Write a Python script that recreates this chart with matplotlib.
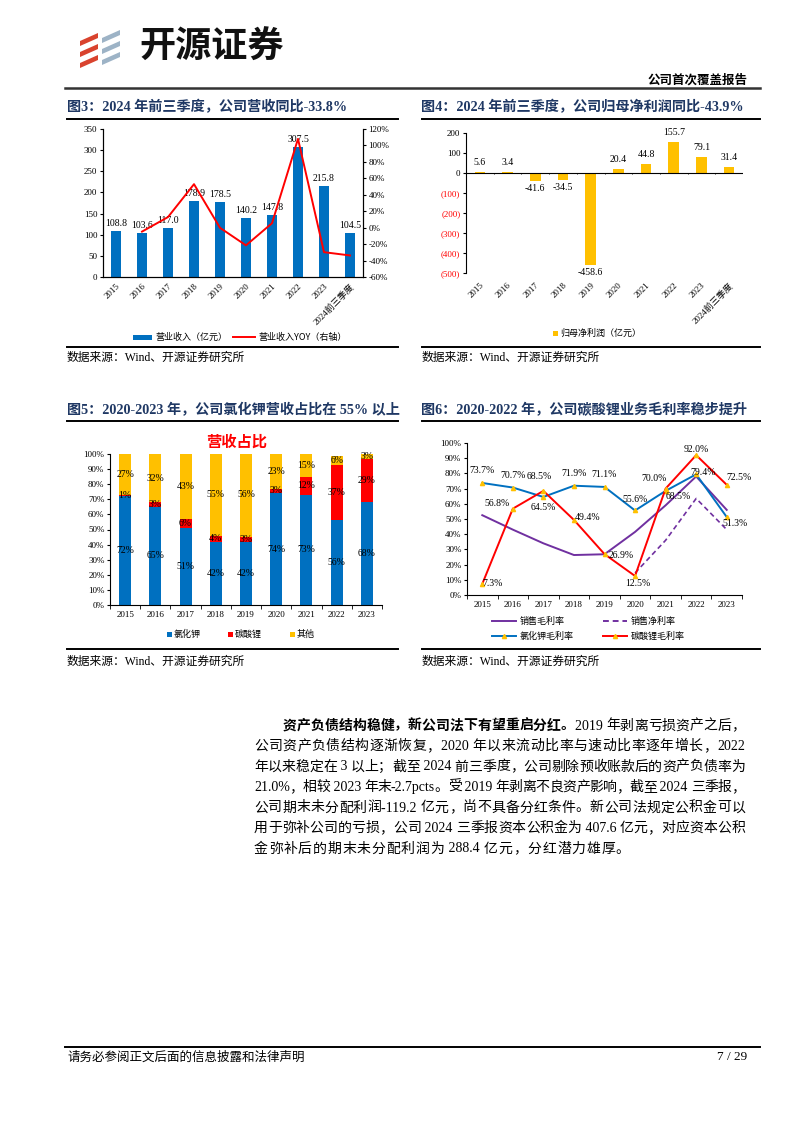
import matplotlib
matplotlib.use('Agg')
import matplotlib.pyplot as plt
import numpy as np
from matplotlib.lines import Line2D
from matplotlib.patches import Rectangle, Polygon

# ---------------- data ----------------
years = ['2015', '2016', '2017', '2018', '2019', '2020', '2021', '2022', '2023']
rev_cats = years + ['2024前三季度']
revenue = [108.8, 103.6, 117.0, 178.9, 178.5, 140.2, 147.8, 307.5, 215.8, 104.5]
revenue_yoy = [np.nan, -4.8, 12.9, 52.9, -0.2, -21.5, 5.4, 108.0, -29.8, -33.8]

net_profit = [5.6, 3.4, -41.6, -34.5, -458.6, 20.4, 44.8, 155.7, 79.1, 31.4]

share_kcl = [72, 65, 51, 42, 42, 74, 73, 56, 68]
share_li = [1, 3, 6, 4, 3, 3, 12, 37, 29]
share_other = [27, 32, 43, 55, 56, 23, 15, 6, 3]

gross_margin = [52.5, 43.0, 34.0, 26.3, 26.8, 41.5, 59.0, 78.0, 56.0]
net_margin = [np.nan, np.nan, np.nan, np.nan, np.nan, 14.5, 36.0, 63.5, 43.0]
kcl_margin = [73.7, 70.7, 64.5, 71.9, 71.1, 55.6, 68.5, 79.4, 51.3]
li_margin = [7.3, 56.8, 68.5, 49.4, 26.9, 12.5, 70.0, 92.0, 72.5]

# ---------------- setup ----------------
W, H = 794, 1123
FAM = ['Liberation Serif', 'Noto Sans CJK SC']
CJK = ['Noto Sans CJK SC', 'Liberation Serif']
plt.rcParams['font.family'] = FAM
plt.rcParams['axes.unicode_minus'] = False
plt.rcParams['axes.linewidth'] = 0.8

fig = plt.figure(figsize=(W / 100, H / 100), dpi=100)
fig.patch.set_facecolor('white')

BLUE = '#0070C0'
RED = '#FF0000'
YEL = '#FFC000'
PUR = '#7030A0'
NAVY = '#1F3864'


def add_ax(l, t, r, b):
    return fig.add_axes([l / W, 1 - b / H, (r - l) / W, (b - t) / H])


def ftext(x, y, s, **kw):
    return fig.text(x / W, 1 - y / H, s, **kw)


def hline(x0, x1, y, lw=1.2, color='black'):
    fig.add_artist(Line2D([x0 / W, x1 / W], [1 - y / H, 1 - y / H], color=color, lw=lw))


# ---------------- header ----------------
# logo icon: red and grey-blue slanted strokes
for i, yy in enumerate([33, 44, 55]):
    fig.add_artist(Polygon([[(80) / W, 1 - (yy + 8) / H], [(98) / W, 1 - (yy) / H],
                            [(98) / W, 1 - (yy + 5) / H], [(80) / W, 1 - (yy + 13) / H]],
                           closed=True, color='#D9432E', lw=0))
for i, yy in enumerate([30, 41, 52]):
    fig.add_artist(Polygon([[(102) / W, 1 - (yy + 8) / H], [(120) / W, 1 - (yy) / H],
                            [(120) / W, 1 - (yy + 5) / H], [(102) / W, 1 - (yy + 13) / H]],
                           closed=True, color='#9DB3C6', lw=0))
ftext(139, 47, '开源证券', fontsize=26, fontweight='bold', family=CJK, va='center', ha='left', color='#111111')
ftext(748, 80, '公司首次覆盖报告', fontsize=9, fontweight='bold', family=CJK, va='center', ha='right')
hline(65, 760, 88, lw=1.8, color='#333333')


def title(x, y, s):
    ftext(x, y, s, fontsize=10.2, fontweight='bold', color=NAVY, va='center', ha='left')


title(67, 107, '图3：2024 年前三季度，公司营收同比-33.8%')
title(421, 107, '图4：2024 年前三季度，公司归母净利润同比-43.9%')
title(67, 410, '图5：2020-2023 年，公司氯化钾营收占比在 55% 以上')
title(421, 410, '图6：2020-2022 年，公司碳酸锂业务毛利率稳步提升')
for (a, b) in [(67, 398), (422, 760)]:
    hline(a, b, 119, lw=1.4)
    hline(a, b, 347, lw=1.4)
    hline(a, b, 421, lw=1.4)
    hline(a, b, 649, lw=1.4)
for x0 in [67, 422]:
    ftext(x0, 358, '数据来源：Wind、开源证券研究所', fontsize=8.5, va='center', ha='left')
    ftext(x0, 662, '数据来源：Wind、开源证券研究所', fontsize=8.5, va='center', ha='left')

TICK = 6.5
LAB = 7

# ---------------- chart 3 ----------------
ax3 = add_ax(103, 129, 363, 277)
x = np.arange(len(rev_cats))
ax3.bar(x, revenue, width=0.42, color=BLUE, zorder=2)
ax3.set_xlim(-0.5, len(rev_cats) - 0.5)
ax3.set_ylim(0, 350)
ax3.set_yticks(range(0, 351, 50))
ax3.tick_params(axis='y', labelsize=TICK, length=2, pad=2)
ax3.set_xticks(x)
ax3.set_xticklabels(rev_cats, rotation=45, ha='right', rotation_mode='anchor', fontsize=TICK)
ax3.tick_params(axis='x', length=0, pad=4)
ax3.spines['top'].set_visible(False)
for xi, v in zip(x, revenue):
    ax3.annotate(f'{v:.1f}', (xi, v), xytext=(0, 3), textcoords='offset pixels',
                 ha='center', va='bottom', fontsize=LAB, zorder=5)
ax3r = ax3.twinx()
ax3r.plot(x, revenue_yoy, color=RED, lw=1.4)
ax3r.set_ylim(-60, 120)
ax3r.set_yticks(range(-60, 121, 20))
ax3r.set_yticklabels([f'{t}%' for t in range(-60, 121, 20)])
ax3r.tick_params(axis='y', labelsize=TICK, length=2, pad=2)
ax3r.spines['top'].set_visible(False)
# legend
fig.add_artist(Rectangle((133 / W, 1 - 339.5 / H), 19 / W, 5 / H, color=BLUE, lw=0))
ftext(155, 337, '营业收入（亿元）', fontsize=6.5, va='center', ha='left', family=CJK)
hline(233, 255, 337, lw=1.4, color=RED)
ftext(258, 337, '营业收入YOY（右轴）', fontsize=6.5, va='center', ha='left', family=CJK)

# ---------------- chart 4 ----------------
ax4 = add_ax(466, 133, 743, 273)
x4 = np.arange(len(rev_cats))
ax4.bar(x4, net_profit, width=0.38, color=YEL, zorder=2)
ax4.set_xlim(-0.5, len(rev_cats) - 0.5)
ax4.set_ylim(-500, 200)
yt = list(range(-500, 201, 100))
ax4.set_yticks(yt)
ax4.set_yticklabels([f'({-t})' if t < 0 else f'{t}' for t in yt])
for lab, t in zip(ax4.get_yticklabels(), yt):
    if t < 0:
        lab.set_color(RED)
ax4.tick_params(axis='y', labelsize=TICK, length=2, pad=2)
ax4.axhline(0, color='black', lw=0.8, zorder=3)
ax4.vlines(np.arange(-0.5, len(rev_cats)), -6, 0, color='black', lw=0.6)
ax4.set_xticks(x4)
ax4.set_xticklabels(rev_cats, rotation=45, ha='right', rotation_mode='anchor', fontsize=TICK)
ax4.tick_params(axis='x', length=0, pad=6)
for s in ['top', 'right', 'bottom']:
    ax4.spines[s].set_visible(False)
for xi, v in zip(x4, net_profit):
    if v >= 0:
        ax4.annotate(f'{v:.1f}', (xi, v), xytext=(0, 5), textcoords='offset pixels',
                     ha='center', va='bottom', fontsize=LAB)
    else:
        ax4.annotate(f'{v:.1f}', (xi, v), xytext=(0, -3), textcoords='offset pixels',
                     ha='center', va='top', fontsize=LAB)
fig.add_artist(Rectangle((553 / W, 1 - 336 / H), 5 / W, 5 / H, color=YEL, lw=0))
ftext(560, 333, '归母净利润（亿元）', fontsize=6.5, va='center', ha='left', family=CJK)

# ---------------- chart 5 ----------------
ax5 = add_ax(110, 454, 382, 605)
x5 = np.arange(len(years))
b1 = np.array(share_kcl, dtype=float)
b2 = np.array(share_li, dtype=float)
b3 = np.array(share_other, dtype=float)
ax5.bar(x5, b1, width=0.4, color=BLUE, zorder=2)
ax5.bar(x5, b2, bottom=b1, width=0.4, color=RED, zorder=2)
ax5.bar(x5, b3, bottom=b1 + b2, width=0.4, color=YEL, zorder=2)
for xi in x5:
    ax5.text(xi, b1[xi] / 2, f'{share_kcl[xi]}%', ha='center', va='center', fontsize=LAB, zorder=5)
    ax5.text(xi, b1[xi] + b2[xi] / 2, f'{share_li[xi]}%', ha='center', va='center', fontsize=LAB, zorder=5)
    ax5.text(xi, b1[xi] + b2[xi] + b3[xi] / 2, f'{share_other[xi]}%', ha='center', va='center',
             fontsize=LAB, zorder=5)
ax5.set_xlim(-0.5, len(years) - 0.5)
ax5.set_ylim(0, 100)
ax5.set_yticks(range(0, 101, 10))
ax5.set_yticklabels([f'{t}%' for t in range(0, 101, 10)])
ax5.tick_params(axis='y', labelsize=TICK, length=2, pad=2)
ax5.set_xticks(x5)
ax5.set_xticklabels(years, fontsize=TICK)
ax5.set_xticks(np.arange(-0.5, len(years)), minor=True)
ax5.tick_params(axis='x', which='major', length=0, pad=4)
ax5.tick_params(axis='x', which='minor', length=3)
for s in ['top', 'right']:
    ax5.spines[s].set_visible(False)
ftext(237, 442, '营收占比', fontsize=11, fontweight='bold', color=RED, family=CJK, ha='center', va='center')
for (xx, c, s) in [(167, BLUE, '氯化钾'), (228, RED, '碳酸锂'), (290, YEL, '其他')]:
    fig.add_artist(Rectangle((xx / W, 1 - 636.5 / H), 5 / W, 5 / H, color=c, lw=0))
    ftext(xx + 7, 634, s, fontsize=6.5, va='center', ha='left', family=CJK)

# ---------------- chart 6 ----------------
ax6 = add_ax(467, 443, 742, 595)
x6 = np.arange(len(years))
ax6.plot(x6, gross_margin, color=PUR, lw=1.4, zorder=3)
ax6.plot(x6, net_margin, color=PUR, lw=1.2, ls=(0, (3, 2)), zorder=3)
ax6.plot(x6, kcl_margin, color=BLUE, lw=1.4, marker='^', ms=3, mfc=YEL, mec=YEL, zorder=4)
ax6.plot(x6, li_margin, color=RED, lw=1.4, marker='^', ms=3, mfc=YEL, mec=YEL, zorder=5)
ax6.set_xlim(-0.5, len(years) - 0.5)
ax6.set_ylim(0, 100)
ax6.set_yticks(range(0, 101, 10))
ax6.set_yticklabels([f'{t}%' for t in range(0, 101, 10)])
ax6.tick_params(axis='y', labelsize=TICK, length=2, pad=2)
ax6.set_xticks(x6)
ax6.set_xticklabels(years, fontsize=TICK)
ax6.set_xticks(np.arange(-0.5, len(years)), minor=True)
ax6.tick_params(axis='x', which='major', length=0, pad=4)
ax6.tick_params(axis='x', which='minor', length=3)
for s in ['top', 'right']:
    ax6.spines[s].set_visible(False)

kcl_off = [(0, 12), (0, 12), (0, -11), (0, 12), (0, 12), (0, 11), (13, -6), (7, 2), (8, -6)]
li_off = [(10, 0), (-16, 5), (-4, 14), (14, 2), (17, -1), (3, -7), (-12, 10), (0, 6), (12, 7)]
for xi, v, o in zip(x6, kcl_margin, kcl_off):
    ax6.annotate(f'{v:.1f}%', (xi, v), xytext=o, textcoords='offset pixels',
                 ha='center', va='center', fontsize=LAB, zorder=6)
for xi, v, o in zip(x6, li_margin, li_off):
    ax6.annotate(f'{v:.1f}%', (xi, v), xytext=o, textcoords='offset pixels',
                 ha='center', va='center', fontsize=LAB, zorder=6)

# legend
def leg_line(x0, x1, y, color, ls='-', marker=False):
    fig.add_artist(Line2D([x0 / W, x1 / W], [1 - y / H, 1 - y / H], color=color, lw=1.4, ls=ls))
    if marker:
        fig.add_artist(Line2D([(x0 + x1) / 2 / W], [1 - y / H], marker='^', ms=3, mfc=YEL, mec=YEL, lw=0))


leg_line(492, 516, 621, PUR)
ftext(520, 621, '销售毛利率', fontsize=6.5, va='center', ha='left', family=CJK)
leg_line(603, 627, 621, PUR, ls=(0, (3, 2)))
ftext(631, 621, '销售净利率', fontsize=6.5, va='center', ha='left', family=CJK)
leg_line(492, 516, 636, BLUE, marker=True)
ftext(520, 636, '氯化钾毛利率', fontsize=6.5, va='center', ha='left', family=CJK)
leg_line(603, 627, 636, RED, marker=True)
ftext(631, 636, '碳酸锂毛利率', fontsize=6.5, va='center', ha='left', family=CJK)

# ---------------- body text ----------------
body_lines = [
    [('资产负债结构稳健，新公司法下有望重启分红。', 'bold'), ('2019 年剥离亏损资产之后，', 'normal')],
    [('公司资产负债结构逐渐恢复，2020 年以来流动比率与速动比率逐年增长，2022', 'normal')],
    [('年以来稳定在 3 以上；截至 2024 前三季度，公司剔除预收账款后的资产负债率为', 'normal')],
    [('21.0%，相较 2023 年末-2.7pcts。受 2019 年剥离不良资产影响，截至 2024 三季报，', 'normal')],
    [('公司期末未分配利润-119.2 亿元，尚不具备分红条件。新公司法规定公积金可以', 'normal')],
    [('用于弥补公司的亏损，公司 2024 三季报资本公积金为 407.6 亿元，对应资本公积', 'normal')],
    [('金弥补后的期末未分配利润为 288.4 亿元，分红潜力雄厚。', 'normal')],
]
line_y = [726, 746.5, 767, 787.5, 808, 828.5, 849]


def tokens(segs):
    out = []
    for s, w in segs:
        buf = ''
        for ch in s:
            if ord(ch) < 128:
                buf += ch
            else:
                if buf:
                    out.append((buf, w))
                    buf = ''
                out.append((ch, w))
        if buf:
            out.append((buf, w))
    return out


renderer = fig.canvas.get_renderer()
for i, (segs, yb) in enumerate(zip(body_lines, line_y)):
    x0 = 283 if i == 0 else 254
    x1 = 745
    toks = tokens(segs)
    objs = []
    widths = []
    for s, w in toks:
        t = ftext(0, yb, s, fontsize=10, fontweight=w, va='center', ha='left')
        objs.append(t)
        widths.append(t.get_window_extent(renderer).width)
    total = sum(widths)
    if i < len(body_lines) - 1 and len(toks) > 1:
        gap = (x1 - x0 - total) / (len(toks) - 1)
    else:
        gap = 0.8
    cx = x0
    for t, wdt in zip(objs, widths):
        t.set_position((cx / W, 1 - yb / H))
        cx += wdt + gap

# ---------------- footer ----------------
hline(65, 760, 1047, lw=1.4)
ftext(67, 1057, '请务必参阅正文后面的信息披露和法律声明', fontsize=9, va='center', ha='left', family=CJK)
ftext(747, 1057, '7 / 29', fontsize=9.5, va='center', ha='right')

fig.savefig('out.png', dpi=100)
